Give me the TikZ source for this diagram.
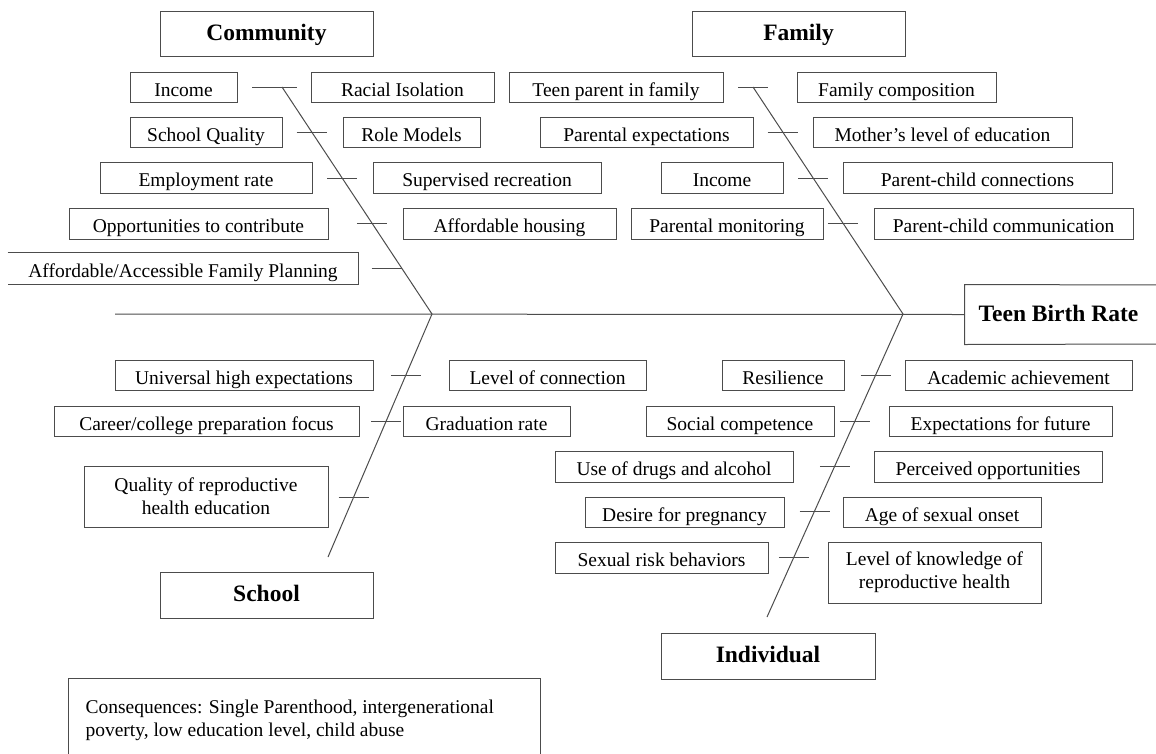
\documentclass[tikz,border=0pt]{standalone}
\usepackage{fontspec}
\setmainfont{Liberation Serif}
\usetikzlibrary{calc}

\tikzset{
    bone/.style={draw=black!70, line width=1pt},
    twoline/.style={bone, inner sep=0pt, align=center,
        font=\fontsize{19.5}{23}\selectfont},
    cause/.style={bone, inner sep=0pt, text height=18pt, text depth=0pt,
        font=\fontsize{19.5}{23}\selectfont},
    head/.style={bone, inner sep=0pt, text height=13pt, text depth=0pt,
        font=\fontsize{23.5}{28}\selectfont\bfseries},
}

% name, style, x1, y1, x2, y2, text
\newcommand{\fishbox}[7]{%
    \node[#2, minimum width={#5-#3}, minimum height={#6-#4}] (#1)
        at ({(#3+#5)/2},{(#4+#6)/2}) {#7};}

\begin{document}
\begin{tikzpicture}[x=1pt,y=-1pt]
    \useasboundingbox (0,0) rectangle (1156,753);

    \fishbox{community}{head}{160}{11}{373}{56}{Community}
    \fishbox{family}{head}{692}{11}{905}{56}{Family}
    \fishbox{school}{head}{160}{572}{373}{618}{School}
    \fishbox{individual}{head}{661}{633}{875}{679}{Individual}
    \fishbox{tbr}{head,draw=none}{965}{285}{1152}{344}{Teen Birth Rate}
    \draw[bone] (1160,285) -- (tbr.north west) -- (tbr.south west) -- (1160,344);

    % community
    \fishbox{cincome}{cause}{130}{72}{237}{102}{Income}
    \fishbox{racial}{cause}{311}{72}{494}{102}{Racial Isolation}
    \fishbox{squality}{cause}{130}{117}{282}{147}{School Quality}
    \fishbox{models}{cause}{343}{117}{480}{147}{Role Models}
    \fishbox{employ}{cause}{100}{162}{312}{193}{Employment rate}
    \fishbox{recreation}{cause}{373}{162}{601}{193}{Supervised recreation}
    \fishbox{contribute}{cause}{69}{208}{328}{239}{Opportunities to contribute}
    \fishbox{housing}{cause}{403}{208}{616}{239}{Affordable housing}
    \fishbox{planning}{cause,draw=none}{8}{253}{358}{284}{Affordable/Accessible Family Planning}
    \draw[bone] (planning.north west) -- (planning.north east) -- (planning.south east) -- (planning.south west);

    % family
    \fishbox{teenparent}{cause}{509}{72}{723}{102}{Teen parent in family}
    \fishbox{composition}{cause}{797}{72}{996}{102}{Family composition}
    \fishbox{pexpect}{cause}{540}{117}{753}{147}{Parental expectations}
    \fishbox{mother}{cause}{813}{117}{1072}{147}{Mother’s level of education}
    \fishbox{fincome}{cause}{661}{162}{783}{193}{Income}
    \fishbox{connections}{cause}{843}{162}{1112}{193}{Parent-child connections}
    \fishbox{monitoring}{cause}{631}{208}{823}{239}{Parental monitoring}
    \fishbox{communication}{cause}{874}{208}{1133}{239}{Parent-child communication}

    % school
    \fishbox{universal}{cause}{115}{360}{373}{390}{Universal high expectations}
    \fishbox{connection}{cause}{449}{360}{646}{390}{Level of connection}
    \fishbox{career}{cause}{54}{406}{359}{436}{Career/college preparation focus}
    \fishbox{graduation}{cause}{403}{406}{570}{436}{Graduation rate}
    \fishbox{sexed}{twoline}{84}{466}{328}{527}{Quality of reproductive\\health education}

    % individual
    \fishbox{resilience}{cause}{722}{360}{844}{390}{Resilience}
    \fishbox{academic}{cause}{905}{360}{1132}{390}{Academic achievement}
    \fishbox{social}{cause}{646}{406}{834}{436}{Social competence}
    \fishbox{future}{cause}{889}{406}{1112}{436}{Expectations for future}
    \fishbox{drugs}{cause}{555}{451}{793}{482}{Use of drugs and alcohol}
    \fishbox{perceived}{cause}{874}{451}{1102}{482}{Perceived opportunities}
    \fishbox{desire}{cause}{585}{497}{784}{527}{Desire for pregnancy}
    \fishbox{onset}{cause}{843}{497}{1041}{527}{Age of sexual onset}
    \fishbox{risk}{cause}{555}{542}{768}{573}{Sexual risk behaviors}
    \fishbox{knowledge}{twoline}{828}{542}{1041}{603}{Level of knowledge of\\reproductive health}

    % spine and bones
    \coordinate (tail) at (115,314);
    \coordinate (cj) at (432,314);
    \coordinate (fj) at (903,314);
    \coordinate (ctop) at (282,87);
    \coordinate (ftop) at (753,87);
    \coordinate (sbot) at (328,557);
    \coordinate (ibot) at (767,617);
    \draw[bone] (tail) -- (tbr.west);
    \draw[bone] (ctop) -- (cj) -- (sbot);
    \draw[bone] (ftop) -- (fj) -- (ibot);

    \draw[bone] (ctop) +(-30,0) -- +(15,0);
    \foreach \y in {132,178,223} {
      \draw[bone] ($(ctop)!{(\y-87)/227}!(cj)$) +(-15,0) -- +(15,0);
    }
    \draw[bone] ($(ctop)!{(268-87)/227}!(cj)$) +(-30,0) -- +(0,0);
    \foreach \y in {87,132,178,223} {
      \draw[bone] ($(ftop)!{(\y-87)/227}!(fj)$) +(-15,0) -- +(15,0);
    }
    \foreach \y in {375,421,497} {
      \draw[bone] ($(cj)!{(\y-314)/243}!(sbot)$) +(-15,0) -- +(15,0);
    }
    \foreach \y in {375,421,466,511,557} {
      \draw[bone] ($(fj)!{(\y-314)/303}!(ibot)$) +(-15,0) -- +(15,0);
    }

    % consequences
    \node[twoline, draw=none, anchor=north west, align=left] (cons) at (85,699)
        {Consequences: Single Parenthood, intergenerational\\poverty, low education level, child abuse};
    \draw[bone] (68,760) |- (540,678) -- (540,760);
\end{tikzpicture}
\end{document}
